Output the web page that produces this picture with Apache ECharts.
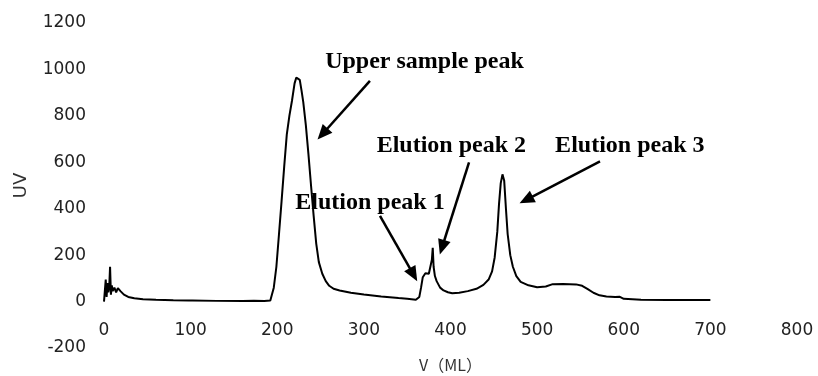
<!DOCTYPE html>
<html>
<head>
<meta charset="utf-8">
<script src="https://cdn.jsdelivr.net/npm/echarts@6/dist/echarts.min.js"></script>
<style>html,body{margin:0;padding:0;background:#fff}#c{width:818px;height:376px}</style>
</head>
<body>
<div id="c"></div>
<script>
// Elution volume (mL) and UV absorbance
var volume = [0,1,2,3,4,5,6,7,8,9,10,12,14,16,19,23,28,35,45,60,80,98,100,102,130,160,173,175,185,192,196,199,202,205,208,211,214,217,220,222,224,226,228,230,233,236,239,242,245,248,252,256,260,265,272,285,300,320,340,350,360,364,366,368,371,375,377,378.5,379.5,380.5,382,384,388,392,397,402,410,420,430,438,444,448,451,454,456,458,460,462,464,466,469,472,476,481,490,500,510,518,530,545,552,558,565,572,580,590,595,600,620,650,700];
var uv     = [0,5,95,20,80,40,60,150,30,70,45,60,40,58,45,30,20,14,10,8,6,5,9,5,3,2,4,2,2,5,60,150,290,433,580,719,800,865,940,965,970,955,910,860,760,635,500,370,250,170,120,88,68,55,48,38,30,22,15,12,8,20,60,105,122,120,125,180,232,150,110,88,60,48,40,36,38,45,55,72,95,130,190,300,420,510,548,520,400,290,200,150,110,85,70,62,65,75,76,74,68,55,38,27,22,20,21,12,8,7,7];

var xTicks = {min: 0, max: 800, step: 100};
var yTicks = {min: -200, max: 1200, step: 200};

// Annotation texts and their anchor points [volume, uv]
var annoTexts  = ['Upper sample peak', 'Elution peak 1', 'Elution peak 2', 'Elution peak 3'];
var annoPos    = [[370, 1032], [307, 424], [401, 669], [607, 669]];
// Arrows: start [volume, uv] -> head [volume, uv]
var arrowFrom  = [[307, 951], [318.6, 369], [421.4, 600], [572.6, 604]];
var arrowTo    = [[252.3, 722], [357.3, 116], [390.3, 234], [487.4, 438]];

var chart = echarts.init(document.getElementById('c'));
var lineData = volume.map(function (v, i) { return [v, uv[i]]; });

chart.setOption({
  animation: false,
  grid: {left: 104, right: 21, top: 23, bottom: 28, containLabel: false, outerBoundsMode: 'none'},
  xAxis: {
    type: 'value', min: xTicks.min, max: xTicks.max, interval: xTicks.step,
    name: 'V（ML）', nameLocation: 'middle', nameGap: 9,
    nameTextStyle: {fontFamily: 'Noto Sans CJK SC', fontSize: 16, color: '#333'},
    axisLine: {show: false, onZero: false},
    axisTick: {show: false}, splitLine: {show: false},
    axisLabel: {margin: -17, verticalAlign: 'middle', fontFamily: 'DejaVu Sans', fontSize: 17, color: '#222',
      formatter: function (v) { return String(v); }}
  },
  yAxis: {
    type: 'value', min: yTicks.min, max: yTicks.max, interval: yTicks.step,
    name: 'UV', nameLocation: 'middle', nameGap: 74,
    nameTextStyle: {fontFamily: 'DejaVu Sans', fontSize: 18, color: '#333'},
    axisLine: {show: false}, axisTick: {show: false}, splitLine: {show: false},
    axisLabel: {margin: 18, fontFamily: 'DejaVu Sans', fontSize: 17, color: '#222',
      formatter: function (v) { return String(v); }}
  },
  series: [{
    type: 'line',
    data: lineData,
    showSymbol: false,
    symbol: 'none',
    lineStyle: {color: '#000', width: 2},
    silent: true,
    markPoint: {
      silent: true,
      symbol: 'rect', symbolSize: 0,
      label: {
        show: true, position: 'inside',
        fontFamily: 'Liberation Serif', fontWeight: 'bold', fontSize: 24, color: '#000',
        formatter: function (p) { return p.name; }
      },
      data: annoTexts.map(function (t, i) { return {name: t, coord: annoPos[i], value: 0}; })
    },
    markLine: {
      silent: true,
      label: {show: false},
      lineStyle: {color: '#000', width: 2.5, type: 'solid'},
      data: arrowFrom.map(function (f, i) {
        return [
          {coord: f, symbol: 'none', symbolSize: 1},
          {coord: arrowTo[i], symbol: 'triangle', symbolSize: [13, 15],
           itemStyle: {color: '#000'}}
        ];
      })
    }
  }]
});
</script>
</body>
</html>
